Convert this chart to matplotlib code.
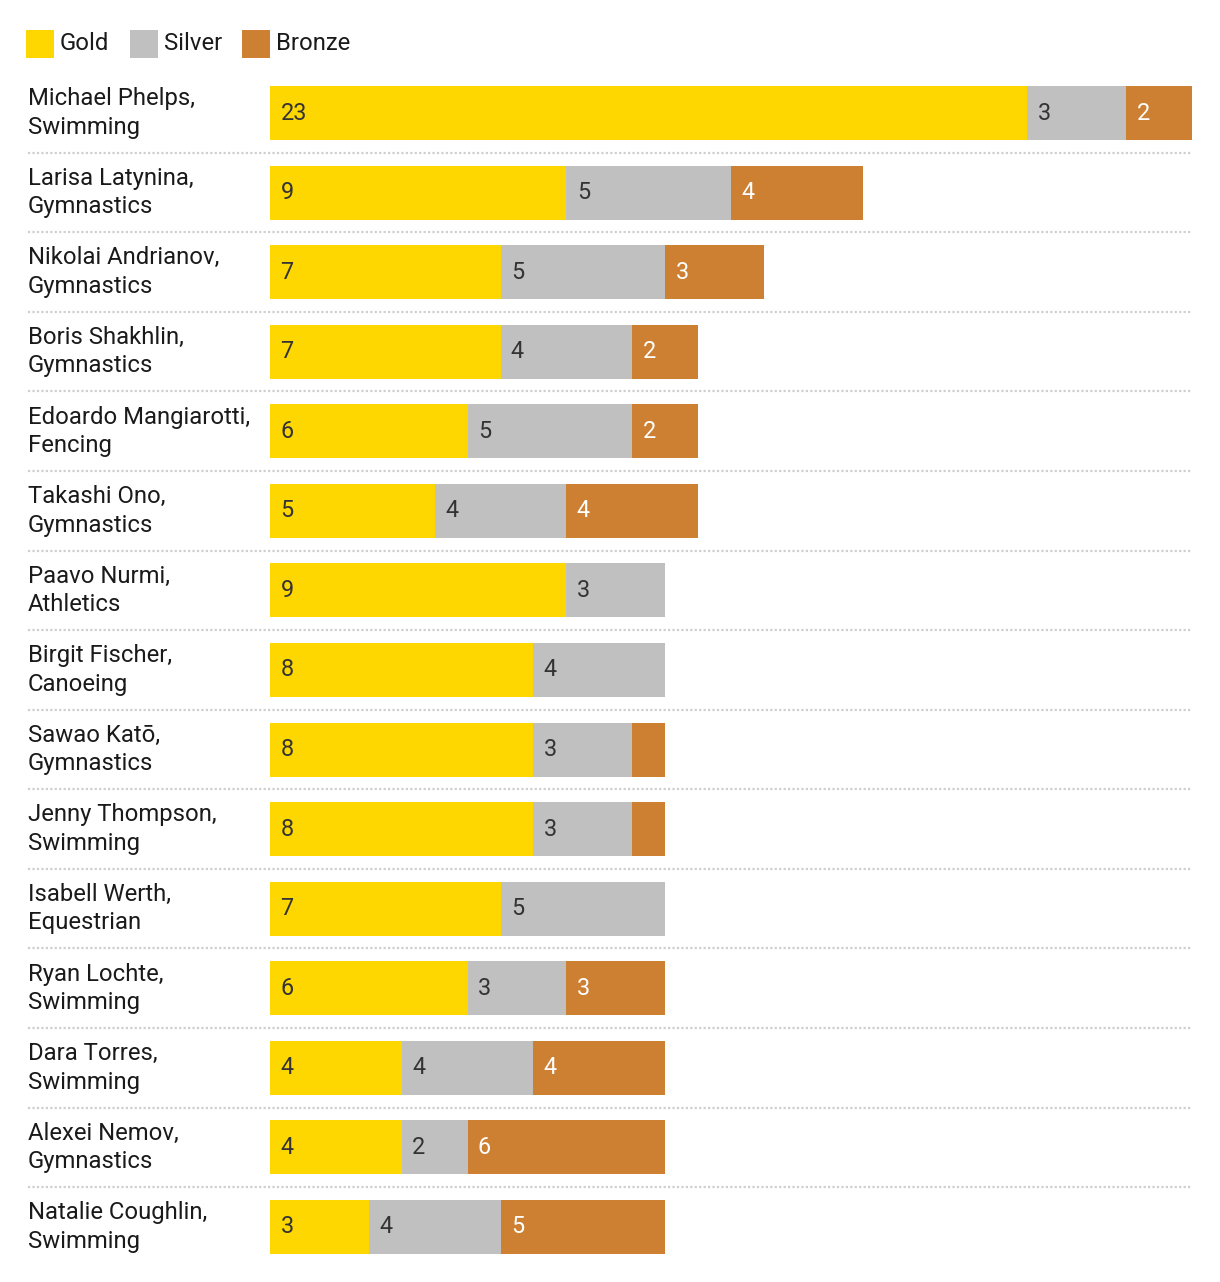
import matplotlib
matplotlib.use("Agg")
import matplotlib.pyplot as plt
from matplotlib.patches import Rectangle

# ------------------------------------------------------------
# DATA
# ------------------------------------------------------------

athletes = [
    "Michael Phelps,\nSwimming",
    "Larisa Latynina,\nGymnastics",
    "Nikolai Andrianov,\nGymnastics",
    "Boris Shakhlin,\nGymnastics",
    "Edoardo Mangiarotti,\nFencing",
    "Takashi Ono,\nGymnastics",
    "Paavo Nurmi,\nAthletics",
    "Birgit Fischer,\nCanoeing",
    "Sawao Katō,\nGymnastics",
    "Jenny Thompson,\nSwimming",
    "Isabell Werth,\nEquestrian",
    "Ryan Lochte,\nSwimming",
    "Dara Torres,\nSwimming",
    "Alexei Nemov,\nGymnastics",
    "Natalie Coughlin,\nSwimming",
]

gold = [23, 9, 7, 7, 6, 5, 9, 8, 8, 8, 7, 6, 4, 4, 3]
silver = [3, 5, 5, 4, 5, 4, 3, 4, 3, 3, 5, 3, 4, 2, 4]
bronze = [2, 4, 3, 2, 2, 4, 0, 0, 1, 1, 0, 3, 4, 6, 5]

series_names = ["Gold", "Silver", "Bronze"]
colors = ["#FFD700", "#C0C0C0", "#CD7F32"]
text_colors = ["#333333", "#333333", "#FFFFFF"]

# ------------------------------------------------------------
# LAYOUT (pixels)
# ------------------------------------------------------------

W, H = 1220, 1282
plt.rcParams["font.family"] = ["Roboto", "DejaVu Sans"]

fig = plt.figure(figsize=(W / 100, H / 100), dpi=100)

n = len(athletes)
row_px = (1226 - 112) / (n - 1)
top_px = 113 - row_px / 2
bot_px = 1227 + row_px / 2
left_px, right_px = 270, 1192

ax = fig.add_axes([left_px / W, 1 - bot_px / H,
                   (right_px - left_px) / W, (bot_px - top_px) / H])

xmax = 28
ax.set_xlim(0, xmax)
ax.set_ylim(n - 0.5, -0.5)
ax.axis("off")

ypos = list(range(n))
bar_h = 54 / row_px

lefts = [0] * n
for vals, col, tcol in zip([gold, silver, bronze], colors, text_colors):
    ax.barh(ypos, vals, left=lefts, height=bar_h, color=col, linewidth=0)
    for i, v in enumerate(vals):
        if v >= 2:
            ax.annotate(str(v), (lefts[i], i), xytext=(7.5, 0),
                        textcoords="offset points", ha="left", va="center",
                        fontsize=16.8, color=tcol)
    lefts = [l + v for l, v in zip(lefts, vals)]

# dotted separators
px_per_unit = (right_px - left_px) / xmax
sep_x0 = (28 - left_px) / px_per_unit
for i in range(n - 1):
    ax.plot([sep_x0, xmax], [i + 0.5, i + 0.5], color="#CFCFCF",
            linestyle=(0, (1, 1)), linewidth=1.6, clip_on=False)

# row labels
for i, name in enumerate(athletes):
    ax.text(sep_x0, i, name, ha="left", va="center", fontsize=17.2,
            color="#1a1a1a", linespacing=1.3)

# legend
lx = [26, 130, 242]
for x0, name, col in zip(lx, series_names, colors):
    fig.add_artist(Rectangle((x0 / W, 1 - 58 / H), 28 / W, 28 / H,
                             transform=fig.transFigure, color=col, lw=0))
    fig.text((x0 + 34) / W, 1 - 43 / H, name, ha="left", va="center",
             fontsize=17.2, color="#1a1a1a")

fig.savefig("out.png", dpi=100, facecolor="white")
